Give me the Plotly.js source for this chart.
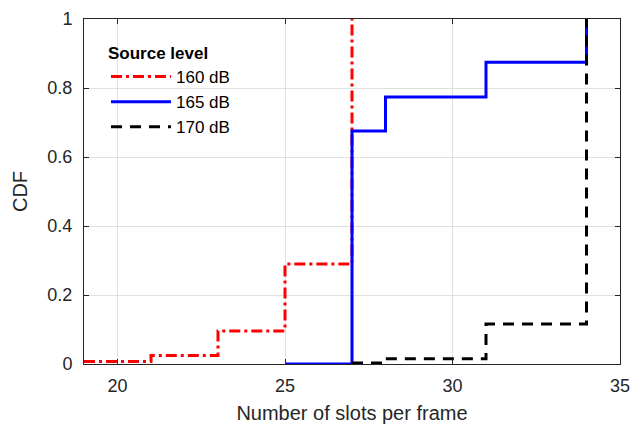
<!DOCTYPE html>
<html><head><meta charset="utf-8">
<script src="https://cdn.plot.ly/plotly-3.0.1.min.js"></script>
<style>body{margin:0;padding:0;background:#fff}#chart{width:631px;height:424px}</style>
</head><body><div id="chart"></div>
<script>
const seriesNames = ["160 dB", "165 dB", "170 dB"];
const x160 = [19, 21, 23, 25, 27];
const y160 = [0.007, 0.025, 0.096, 0.29, 1];
const x165 = [25, 27, 28, 31, 34];
const y165 = [0, 0.675, 0.774, 0.875, 1];
const x170 = [27, 28, 31, 34];
const y170 = [0.003, 0.015, 0.116, 1];
const xTicks = [20, 25, 30, 35];
const yTicks = [0, 0.2, 0.4, 0.6, 0.8, 1];
const yTickText = ["0", "0.2", "0.4", "0.6", "0.8", "1"];

const FONT = "Liberation Sans, Arial, sans-serif";
const traces = [
  {x: x160, y: y160, name: seriesNames[0], mode: "lines", line: {shape: "hv", color: "#ff0000", width: 3, dash: "11px,4px,3px,4px"}},
  {x: x165, y: y165, name: seriesNames[1], mode: "lines", line: {shape: "hv", color: "#0000ff", width: 3}},
  {x: x170, y: y170, name: seriesNames[2], mode: "lines", line: {shape: "hv", color: "#000000", width: 3, dash: "11px,8px"}}
];

const axisCommon = {
  showline: true, linecolor: "#262626", linewidth: 1, mirror: "ticks",
  ticks: "inside", ticklen: 5, tickcolor: "#262626",
  showgrid: true, gridcolor: "#e0e0e0", gridwidth: 1, zeroline: false,
  tickfont: {family: FONT, size: 18, color: "#262626"}
};

const layout = {
  width: 631, height: 424,
  margin: {l: 84, r: 11, t: 19, b: 60},
  paper_bgcolor: "#ffffff", plot_bgcolor: "#ffffff",
  showlegend: true,
  xaxis: Object.assign({}, axisCommon, {
    range: [19, 35], tickvals: xTicks, ticktext: xTicks.map(String),
    ticklabelstandoff: 5,
    title: {text: "Number of slots per frame", font: {family: FONT, size: 20, color: "#262626"}, standoff: 14}
  }),
  yaxis: Object.assign({}, axisCommon, {
    range: [0, 1], tickvals: yTicks, ticktext: yTickText,
    ticklabelstandoff: 7,
    title: {text: "CDF", font: {family: FONT, size: 20, color: "#262626"}, standoff: 14}
  }),
  legend: {
    x: 0.041, y: 0.948, xanchor: "left", yanchor: "top",
    bgcolor: "rgba(0,0,0,0)", borderwidth: 0,
    itemwidth: 60,
    font: {family: FONT, size: 17, color: "#000"},
    title: {text: "<b>Source level</b>", font: {family: FONT, size: 17, color: "#000"}},
    tracegroupgap: 0
  }
};

Plotly.newPlot("chart", traces, layout, {displayModeBar: false, staticPlot: true});
</script>
</body></html>
